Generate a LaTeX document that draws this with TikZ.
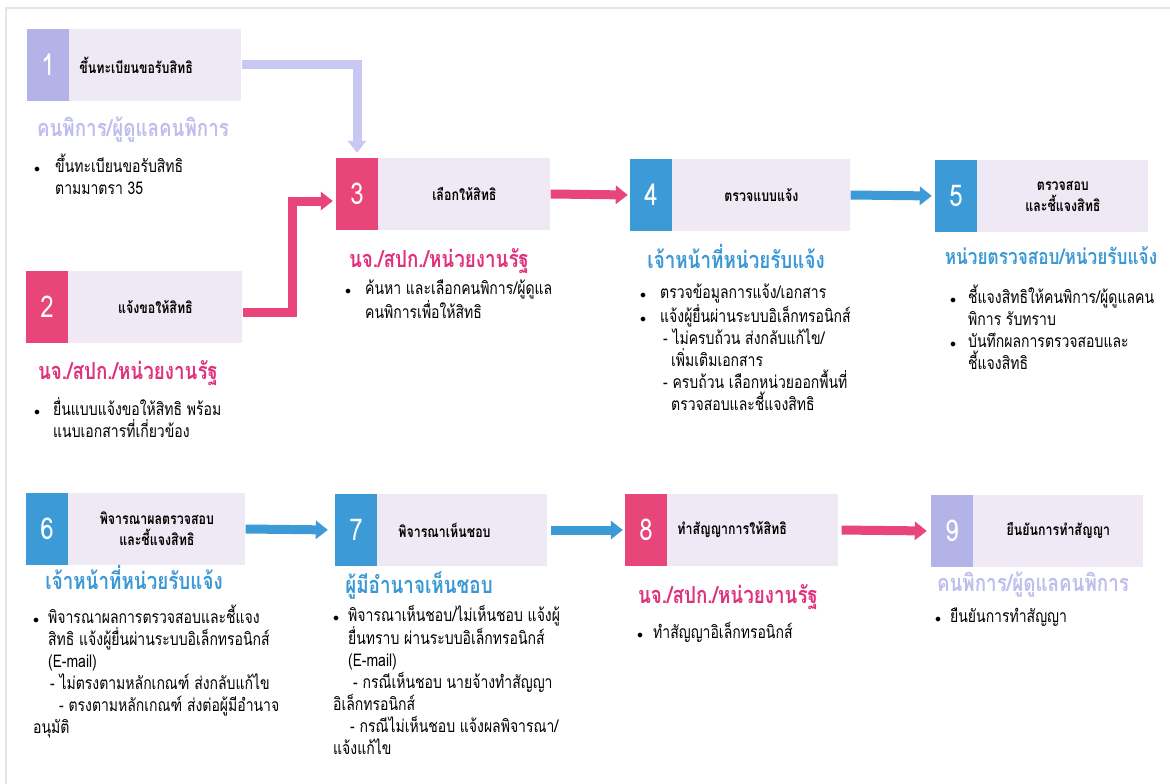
\documentclass[tikz,border=0pt]{standalone}
\usepackage{fontspec}
\setmainfont{Loma}[Script=Thai,FakeStretch=0.8]
\usetikzlibrary{positioning,arrows.meta}

\definecolor{lavbox}{HTML}{B4B3E8}
\definecolor{lavtext}{HTML}{BEBDEC}
\definecolor{lavarrow}{HTML}{C9C8F2}
\definecolor{pinkbox}{HTML}{E8467A}
\definecolor{pinktext}{HTML}{E0317E}
\definecolor{bluebox}{HTML}{3C9BD6}
\definecolor{bluetext}{HTML}{3A98D4}
\definecolor{paleback}{HTML}{EEE9F4}

\newcommand{\tbul}[1][19pt]{\makebox[#1][l]{$\scriptstyle\bullet$}}

\begin{document}
\begin{tikzpicture}[x=1pt,y=-1pt,
    numbox/.style={minimum width=42pt,minimum height=72pt,inner sep=0pt,text=white,font=\fontsize{30}{30}\selectfont},
    stepbox/.style={fill=paleback,minimum height=72pt,inner xsep=10pt,inner ysep=0pt,align=center,font=\bfseries\fontsize{15.5}{21}\selectfont},
    role/.style={anchor=base,inner sep=0pt,font=\bfseries\fontsize{23.5}{26}\selectfont},
    body/.style={anchor=north west,inner sep=0pt,align=left,font=\fontsize{17.5}{22}\selectfont,execute at begin node=\rule{0pt}{18pt}},
    flow/.style={line width=9pt,-{Triangle[width=18pt,length=12pt]}}
  ]
  \useasboundingbox (0,0) rectangle (1170,784);
  \draw[black!10,line width=2pt] (6,800) -- (6,8) -- (1180,8);

  % row 1
  \node[numbox,fill=lavbox] (n1) at (48,65) {1};
  \node[stepbox,text width=152pt,align=left,right=0pt of n1] (s1) {ขึ้นทะเบียนขอรับสิทธิ};
  \node[role,text=lavtext] (r1) at (133,136) {คนพิการ/ผู้ดูแลคนพิการ};
  \node[body] (b1) at (34,154) {\tbul[21pt]ขึ้นทะเบียนขอรับสิทธิ\\ \hspace*{21pt}ตามมาตรา 35};

  \node[numbox,fill=pinkbox] (n2) at (47,307) {2};
  \node[stepbox,text width=154pt,right=0pt of n2] (s2) {แจ้งขอให้สิทธิ};
  \node[role,text=pinktext] (r2) at (128,379) {นจ./สปก./หน่วยงานรัฐ};
  \node[body] (b2) at (34,397) {\tbul ยื่นแบบแจ้งขอให้สิทธิ พร้อม\\ \hspace*{19pt}แนบเอกสารที่เกี่ยวข้อง};

  \node[numbox,fill=pinkbox] (n3) at (357,194) {3};
  \node[stepbox,text width=152pt,right=0pt of n3] (s3) {เลือกให้สิทธิ};
  \node[role,text=pinktext] (r3) at (439,267) {นจ./สปก./หน่วยงานรัฐ};
  \node[body] (b3) at (345,280) {\tbul[20pt]ค้นหา และเลือกคนพิการ/ผู้ดูแล\\ \hspace*{20pt}คนพิการเพื่อให้สิทธิ};

  \node[numbox,fill=bluebox] (n4) at (651,195) {4};
  \node[stepbox,text width=158pt,right=0pt of n4] (s4) {ตรวจแบบแจ้ง};
  \node[role,text=bluetext] (r4) at (736,268) {เจ้าหน้าที่หน่วยรับแจ้ง};
  \node[body] (b4) at (640,284) {\tbul[20pt]ตรวจข้อมูลการแจ้ง/เอกสาร\\
    \tbul[20pt]แจ้งผู้ยื่นผ่านระบบอิเล็กทรอนิกส์\\
    \hspace*{23pt}- ไม่ครบถ้วน ส่งกลับแก้ไข/\\
    \hspace*{31pt}เพิ่มเติมเอกสาร\\
    \hspace*{23pt}- ครบถ้วน เลือกหน่วยออกพื้นที่\\
    \hspace*{31pt}ตรวจสอบและชี้แจงสิทธิ};

  \node[numbox,fill=bluebox] (n5) at (956,196) {5};
  \node[stepbox,text width=151pt,right=0pt of n5] (s5) {ตรวจสอบ\\และชี้แจงสิทธิ};
  \node[role,text=bluetext,font=\bfseries\fontsize{21.5}{24}\selectfont] (r5) at (1051,264) {หน่วยตรวจสอบ/หน่วยรับแจ้ง};
  \node[body] (b5) at (950,285) {\tbul[18pt]ชี้แจงสิทธิให้คนพิการ/ผู้ดูแลคน\\
    \hspace*{18pt}พิการ รับทราบ\\
    \tbul[18pt]บันทึกผลการตรวจสอบและ\\
    \hspace*{18pt}ชี้แจงสิทธิ};

  % row 2
  \node[numbox,fill=bluebox] (n6) at (47,529) {6};
  \node[stepbox,text width=157pt,right=0pt of n6] (s6) {พิจารณาผลตรวจสอบ\\และชี้แจงสิทธิ};
  \node[role,text=bluetext] (r6) at (134,589) {เจ้าหน้าที่หน่วยรับแจ้ง};
  \node[body] (b6) at (33,605) {\tbul[15pt]พิจารณาผลการตรวจสอบและชี้แจง\\
    \hspace*{15pt}สิทธิ แจ้งผู้ยื่นผ่านระบบอิเล็กทรอนิกส์\\
    \hspace*{15pt}(E-mail)\\
    \hspace*{17pt}- ไม่ตรงตามหลักเกณฑ์ ส่งกลับแก้ไข\\
    \hspace*{26pt}- ตรงตามหลักเกณฑ์ ส่งต่อผู้มีอำนาจ\\
    อนุมัติ};

  \node[numbox,fill=bluebox] (n7) at (356,530) {7};
  \node[stepbox,text width=150pt,align=left,right=0pt of n7] (s7) {\hspace*{11pt}พิจารณาเห็นชอบ};
  \node[role,text=bluetext] (r7) at (419,593) {ผู้มีอำนาจเห็นชอบ};
  \node[body] (b7) at (333,605) {\tbul[15pt]พิจารณาเห็นชอบ/ไม่เห็นชอบ แจ้งผู้\\
    \hspace*{15pt}ยื่นทราบ ผ่านระบบอิเล็กทรอนิกส์\\
    \hspace*{15pt}(E-mail)\\
    \hspace*{20pt}- กรณีเห็นชอบ นายจ้างทำสัญญา\\
    อิเล็กทรอนิกส์\\
    \hspace*{17pt}- กรณีไม่เห็นชอบ แจ้งผลพิจารณา/\\
    แจ้งแก้ไข};

  \node[numbox,fill=pinkbox] (n8) at (646,530) {8};
  \node[stepbox,text width=151pt,align=left,right=0pt of n8] (s8) {ทำสัญญาการให้สิทธิ};
  \node[role,text=pinktext] (r8) at (728,603) {นจ./สปก./หน่วยงานรัฐ};
  \node[body] (b8) at (637,620) {\tbul[16pt]ทำสัญญาอิเล็กทรอนิกส์};

  \node[numbox,fill=lavbox] (n9) at (952,531) {9};
  \node[stepbox,text width=150pt,right=0pt of n9] (s9) {ยืนยันการทำสัญญา};
  \node[role,text=lavtext] (r9) at (1033,591) {คนพิการ/ผู้ดูแลคนพิการ};
  \node[body] (b9) at (935,604) {\tbul[15pt]ยืนยันการทำสัญญา};

  % connectors
  \draw[flow,lavarrow,shorten >=5pt] (s1.east) -| (n3.north);
  \draw[flow,pinkbox,shorten >=3pt] ([yshift=-5pt]s2.east) -- ++(50,0) |- ([yshift=-7pt]n3.west);
  \draw[flow,pinkbox,shorten >=2pt] (s3.east) -- (n4.west);
  \draw[flow,bluebox,shorten >=3pt] (s4.east) -- (n5.west);
  \draw[flow,bluebox,shorten >=7pt] (s6.east) -- (n7.west);
  \draw[flow,bluebox,shorten <=3pt,shorten >=2pt] (s7.east) -- (n8.west);
  \draw[flow,pinkbox,shorten <=3pt,shorten >=4pt] (s8.east) -- (n9.west);
\end{tikzpicture}
\end{document}
